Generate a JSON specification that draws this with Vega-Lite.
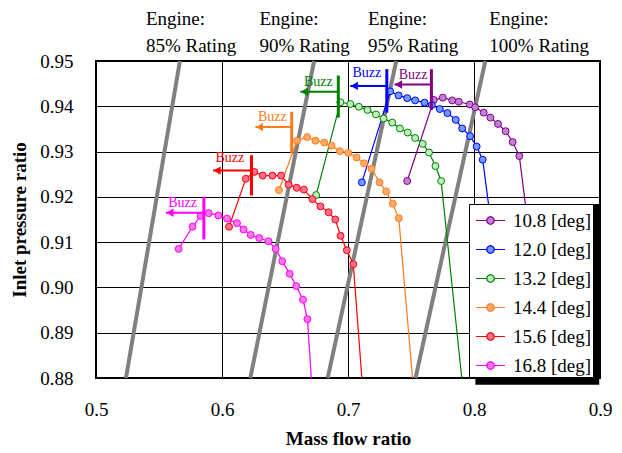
{
  "$schema": "https://vega.github.io/schema/vega-lite/v6.json",
  "width": 504,
  "height": 317,
  "autosize": {"type": "none"},
  "padding": {"left": 96, "top": 61, "right": 22, "bottom": 75},
  "config": {
    "font": "Liberation Serif",
    "view": {"stroke": "#000", "strokeWidth": 2},
    "axis": {
      "grid": true,
      "gridColor": "#000",
      "gridWidth": 1,
      "gridOpacity": 1,
      "domain": false,
      "ticks": false,
      "labelFlush": false,
      "labelFont": "Liberation Serif",
      "labelFontSize": 19,
      "labelColor": "#000",
      "titleFont": "Liberation Serif",
      "titleFontSize": 19,
      "titleFontWeight": "bold",
      "titleColor": "#000"
    }
  },
  "datasets": {
    "ratings": [
      {"rating": "Engine:\n85% Rating", "m_lo": 0.5238, "p_lo": 0.88, "m_hi": 0.5666, "p_hi": 0.95, "m_text": 0.5396, "p_text": 0.9579},
      {"rating": "Engine:\n90% Rating", "m_lo": 0.6225, "p_lo": 0.88, "m_hi": 0.6731, "p_hi": 0.95, "m_text": 0.6297, "p_text": 0.9579},
      {"rating": "Engine:\n95% Rating", "m_lo": 0.6839, "p_lo": 0.88, "m_hi": 0.7383, "p_hi": 0.95, "m_text": 0.7158, "p_text": 0.9579},
      {"rating": "Engine:\n100% Rating", "m_lo": 0.7536, "p_lo": 0.88, "m_hi": 0.8090, "p_hi": 0.95, "m_text": 0.8122, "p_text": 0.9579}
    ],
    "curves": [
      {"s": "10.8 [deg]", "m": 0.7470, "p": 0.9235, "kind": "measured"},
      {"s": "10.8 [deg]", "m": 0.7681, "p": 0.9414, "kind": "measured"},
      {"s": "10.8 [deg]", "m": 0.7752, "p": 0.9419, "kind": "measured"},
      {"s": "10.8 [deg]", "m": 0.7827, "p": 0.9413, "kind": "measured"},
      {"s": "10.8 [deg]", "m": 0.7879, "p": 0.9410, "kind": "measured"},
      {"s": "10.8 [deg]", "m": 0.7966, "p": 0.9404, "kind": "measured"},
      {"s": "10.8 [deg]", "m": 0.8009, "p": 0.9398, "kind": "measured"},
      {"s": "10.8 [deg]", "m": 0.8077, "p": 0.9386, "kind": "measured"},
      {"s": "10.8 [deg]", "m": 0.8130, "p": 0.9375, "kind": "measured"},
      {"s": "10.8 [deg]", "m": 0.8191, "p": 0.9361, "kind": "measured"},
      {"s": "10.8 [deg]", "m": 0.8251, "p": 0.9345, "kind": "measured"},
      {"s": "10.8 [deg]", "m": 0.8307, "p": 0.9321, "kind": "measured"},
      {"s": "10.8 [deg]", "m": 0.8360, "p": 0.9290, "kind": "measured"},
      {"s": "10.8 [deg]", "m": 0.8580, "p": 0.8800, "kind": "choke"},

      {"s": "12.0 [deg]", "m": 0.7110, "p": 0.9232, "kind": "measured"},
      {"s": "12.0 [deg]", "m": 0.7335, "p": 0.9433, "kind": "measured"},
      {"s": "12.0 [deg]", "m": 0.7401, "p": 0.9424, "kind": "measured"},
      {"s": "12.0 [deg]", "m": 0.7470, "p": 0.9418, "kind": "measured"},
      {"s": "12.0 [deg]", "m": 0.7533, "p": 0.9413, "kind": "measured"},
      {"s": "12.0 [deg]", "m": 0.7607, "p": 0.9408, "kind": "measured"},
      {"s": "12.0 [deg]", "m": 0.7665, "p": 0.9403, "kind": "measured"},
      {"s": "12.0 [deg]", "m": 0.7728, "p": 0.9394, "kind": "measured"},
      {"s": "12.0 [deg]", "m": 0.7789, "p": 0.9385, "kind": "measured"},
      {"s": "12.0 [deg]", "m": 0.7855, "p": 0.9370, "kind": "measured"},
      {"s": "12.0 [deg]", "m": 0.7906, "p": 0.9351, "kind": "measured"},
      {"s": "12.0 [deg]", "m": 0.7969, "p": 0.9334, "kind": "measured"},
      {"s": "12.0 [deg]", "m": 0.8021, "p": 0.9311, "kind": "measured"},
      {"s": "12.0 [deg]", "m": 0.8069, "p": 0.9282, "kind": "measured"},
      {"s": "12.0 [deg]", "m": 0.8296, "p": 0.8800, "kind": "choke"},

      {"s": "13.2 [deg]", "m": 0.6747, "p": 0.9204, "kind": "measured"},
      {"s": "13.2 [deg]", "m": 0.6940, "p": 0.9409, "kind": "measured"},
      {"s": "13.2 [deg]", "m": 0.7018, "p": 0.9405, "kind": "measured"},
      {"s": "13.2 [deg]", "m": 0.7086, "p": 0.9399, "kind": "measured"},
      {"s": "13.2 [deg]", "m": 0.7155, "p": 0.9392, "kind": "measured"},
      {"s": "13.2 [deg]", "m": 0.7222, "p": 0.9382, "kind": "measured"},
      {"s": "13.2 [deg]", "m": 0.7282, "p": 0.9373, "kind": "measured"},
      {"s": "13.2 [deg]", "m": 0.7351, "p": 0.9364, "kind": "measured"},
      {"s": "13.2 [deg]", "m": 0.7412, "p": 0.9351, "kind": "measured"},
      {"s": "13.2 [deg]", "m": 0.7474, "p": 0.9342, "kind": "measured"},
      {"s": "13.2 [deg]", "m": 0.7533, "p": 0.9330, "kind": "measured"},
      {"s": "13.2 [deg]", "m": 0.7593, "p": 0.9317, "kind": "measured"},
      {"s": "13.2 [deg]", "m": 0.7643, "p": 0.9298, "kind": "measured"},
      {"s": "13.2 [deg]", "m": 0.7694, "p": 0.9268, "kind": "measured"},
      {"s": "13.2 [deg]", "m": 0.7739, "p": 0.9235, "kind": "measured"},
      {"s": "13.2 [deg]", "m": 0.7903, "p": 0.8800, "kind": "choke"},

      {"s": "14.4 [deg]", "m": 0.6452, "p": 0.9215, "kind": "measured"},
      {"s": "14.4 [deg]", "m": 0.6595, "p": 0.9324, "kind": "measured"},
      {"s": "14.4 [deg]", "m": 0.6676, "p": 0.9332, "kind": "measured"},
      {"s": "14.4 [deg]", "m": 0.6742, "p": 0.9324, "kind": "measured"},
      {"s": "14.4 [deg]", "m": 0.6812, "p": 0.9320, "kind": "measured"},
      {"s": "14.4 [deg]", "m": 0.6870, "p": 0.9313, "kind": "measured"},
      {"s": "14.4 [deg]", "m": 0.6936, "p": 0.9301, "kind": "measured"},
      {"s": "14.4 [deg]", "m": 0.7003, "p": 0.9297, "kind": "measured"},
      {"s": "14.4 [deg]", "m": 0.7068, "p": 0.9287, "kind": "measured"},
      {"s": "14.4 [deg]", "m": 0.7128, "p": 0.9274, "kind": "measured"},
      {"s": "14.4 [deg]", "m": 0.7187, "p": 0.9262, "kind": "measured"},
      {"s": "14.4 [deg]", "m": 0.7250, "p": 0.9232, "kind": "measured"},
      {"s": "14.4 [deg]", "m": 0.7303, "p": 0.9212, "kind": "measured"},
      {"s": "14.4 [deg]", "m": 0.7355, "p": 0.9185, "kind": "measured"},
      {"s": "14.4 [deg]", "m": 0.7403, "p": 0.9153, "kind": "measured"},
      {"s": "14.4 [deg]", "m": 0.7512, "p": 0.8800, "kind": "choke"},

      {"s": "15.6 [deg]", "m": 0.6056, "p": 0.9134, "kind": "measured"},
      {"s": "15.6 [deg]", "m": 0.6189, "p": 0.9240, "kind": "measured"},
      {"s": "15.6 [deg]", "m": 0.6256, "p": 0.9255, "kind": "measured"},
      {"s": "15.6 [deg]", "m": 0.6323, "p": 0.9247, "kind": "measured"},
      {"s": "15.6 [deg]", "m": 0.6400, "p": 0.9247, "kind": "measured"},
      {"s": "15.6 [deg]", "m": 0.6469, "p": 0.9247, "kind": "measured"},
      {"s": "15.6 [deg]", "m": 0.6529, "p": 0.9227, "kind": "measured"},
      {"s": "15.6 [deg]", "m": 0.6593, "p": 0.9220, "kind": "measured"},
      {"s": "15.6 [deg]", "m": 0.6650, "p": 0.9216, "kind": "measured"},
      {"s": "15.6 [deg]", "m": 0.6717, "p": 0.9195, "kind": "measured"},
      {"s": "15.6 [deg]", "m": 0.6781, "p": 0.9179, "kind": "measured"},
      {"s": "15.6 [deg]", "m": 0.6846, "p": 0.9166, "kind": "measured"},
      {"s": "15.6 [deg]", "m": 0.6899, "p": 0.9150, "kind": "measured"},
      {"s": "15.6 [deg]", "m": 0.6941, "p": 0.9114, "kind": "measured"},
      {"s": "15.6 [deg]", "m": 0.6991, "p": 0.9082, "kind": "measured"},
      {"s": "15.6 [deg]", "m": 0.7042, "p": 0.9051, "kind": "measured"},
      {"s": "15.6 [deg]", "m": 0.7110, "p": 0.8800, "kind": "choke"},

      {"s": "16.8 [deg]", "m": 0.5656, "p": 0.9085, "kind": "measured"},
      {"s": "16.8 [deg]", "m": 0.5766, "p": 0.9134, "kind": "measured"},
      {"s": "16.8 [deg]", "m": 0.5830, "p": 0.9158, "kind": "measured"},
      {"s": "16.8 [deg]", "m": 0.5895, "p": 0.9164, "kind": "measured"},
      {"s": "16.8 [deg]", "m": 0.5971, "p": 0.9159, "kind": "measured"},
      {"s": "16.8 [deg]", "m": 0.6040, "p": 0.9152, "kind": "measured"},
      {"s": "16.8 [deg]", "m": 0.6119, "p": 0.9142, "kind": "measured"},
      {"s": "16.8 [deg]", "m": 0.6171, "p": 0.9128, "kind": "measured"},
      {"s": "16.8 [deg]", "m": 0.6228, "p": 0.9116, "kind": "measured"},
      {"s": "16.8 [deg]", "m": 0.6296, "p": 0.9109, "kind": "measured"},
      {"s": "16.8 [deg]", "m": 0.6369, "p": 0.9102, "kind": "measured"},
      {"s": "16.8 [deg]", "m": 0.6426, "p": 0.9085, "kind": "measured"},
      {"s": "16.8 [deg]", "m": 0.6478, "p": 0.9058, "kind": "measured"},
      {"s": "16.8 [deg]", "m": 0.6537, "p": 0.9030, "kind": "measured"},
      {"s": "16.8 [deg]", "m": 0.6590, "p": 0.9003, "kind": "measured"},
      {"s": "16.8 [deg]", "m": 0.6643, "p": 0.8973, "kind": "measured"},
      {"s": "16.8 [deg]", "m": 0.6678, "p": 0.8930, "kind": "measured"},
      {"s": "16.8 [deg]", "m": 0.6709, "p": 0.8800, "kind": "choke"}
    ],
    "buzz": [
      {"s": "10.8 [deg]", "m_bar": 0.7662, "p_lo": 0.9392, "p_hi": 0.9482, "p_arrow": 0.9448, "m_head": 0.7369, "m_text": 0.7516, "p_text": 0.9468, "label": "Buzz"},
      {"s": "12.0 [deg]", "m_bar": 0.7308, "p_lo": 0.9386, "p_hi": 0.9482, "p_arrow": 0.9445, "m_head": 0.7018, "m_text": 0.7150, "p_text": 0.9473, "label": "Buzz"},
      {"s": "13.2 [deg]", "m_bar": 0.6923, "p_lo": 0.9375, "p_hi": 0.9468, "p_arrow": 0.9432, "m_head": 0.6622, "m_text": 0.6765, "p_text": 0.9454, "label": "Buzz"},
      {"s": "14.4 [deg]", "m_bar": 0.6553, "p_lo": 0.9296, "p_hi": 0.9388, "p_arrow": 0.9354, "m_head": 0.6265, "m_text": 0.6400, "p_text": 0.9377, "label": "Buzz"},
      {"s": "15.6 [deg]", "m_bar": 0.6234, "p_lo": 0.9203, "p_hi": 0.9292, "p_arrow": 0.9258, "m_head": 0.5929, "m_text": 0.6062, "p_text": 0.9285, "label": "Buzz"},
      {"s": "16.8 [deg]", "m_bar": 0.5856, "p_lo": 0.9106, "p_hi": 0.9200, "p_arrow": 0.9165, "m_head": 0.5555, "m_text": 0.5687, "p_text": 0.9187, "label": "Buzz"}
    ]
  },
  "layer": [
    {
      "data": {"name": "ratings"},
      "mark": {"type": "rule", "stroke": "#808080", "strokeWidth": 4},
      "encoding": {
        "x": {"field": "m_lo", "type": "quantitative", "scale": {"domain": [0.5, 0.9], "nice": false, "zero": false},
              "axis": {"title": "Mass flow ratio", "values": [0.5, 0.6, 0.7, 0.8, 0.9], "format": ".1f", "labelPadding": 22, "titlePadding": 10}},
        "y": {"field": "p_lo", "type": "quantitative", "scale": {"domain": [0.88, 0.95], "nice": false, "zero": false},
              "axis": {"title": "Inlet pressure ratio", "values": [0.88, 0.89, 0.9, 0.91, 0.92, 0.93, 0.94, 0.95], "format": ".2f", "labelPadding": 23, "titlePadding": 10}},
        "x2": {"field": "m_hi"},
        "y2": {"field": "p_hi"}
      }
    },
    {
      "data": {"name": "ratings"},
      "mark": {"type": "text", "align": "left", "baseline": "alphabetic", "fontSize": 19, "lineBreak": "\n", "lineHeight": 26.5, "color": "#000"},
      "encoding": {
        "x": {"field": "m_text", "type": "quantitative"},
        "y": {"field": "p_text", "type": "quantitative"},
        "text": {"field": "rating"}
      }
    },
    {
      "data": {"name": "curves"},
      "mark": {"type": "line", "strokeWidth": 1.2},
      "encoding": {
        "x": {"field": "m", "type": "quantitative"},
        "y": {"field": "p", "type": "quantitative"},
        "stroke": {"field": "s", "type": "nominal",
          "scale": {"domain": ["10.8 [deg]", "12.0 [deg]", "13.2 [deg]", "14.4 [deg]", "15.6 [deg]", "16.8 [deg]"],
                    "range": ["#800080", "#0000FF", "#008000", "#FF7A1A", "#FF0000", "#FF00FF"]}},
        "order": {"value": null}
      }
    },
    {
      "data": {"name": "curves"},
      "transform": [{"filter": "datum.kind === 'measured'"}],
      "mark": {"type": "point", "shape": "circle", "filled": true, "opacity": 1, "size": 48, "strokeWidth": 1},
      "encoding": {
        "x": {"field": "m", "type": "quantitative"},
        "y": {"field": "p", "type": "quantitative"},
        "stroke": {"field": "s", "type": "nominal",
          "legend": {"title": null, "orient": "none", "legendX": 373, "legendY": 143,
            "symbolType": "M-1,0H-0.26M0.26,0H1M0.26,0L0.2252,0.13L0.13,0.2252L0,0.26L-0.13,0.2252L-0.2252,0.13L-0.26,0L-0.2252,-0.13L-0.13,-0.2252L0,-0.26L0.13,-0.2252L0.2252,-0.13Z",
            "symbolSize": 841, "symbolStrokeWidth": 1.2, "symbolOpacity": 1,
            "labelFont": "Liberation Serif", "labelFontSize": 19, "labelColor": "#000", "labelOffset": 7,
            "labelExpr": "datum.label + '\u00a0'",
            "rowPadding": 3, "padding": 1, "symbolOffset": 5,
            "fillColor": "#fff", "strokeColor": "#000"}},
        "fill": {"field": "s", "type": "nominal",
          "scale": {"domain": ["10.8 [deg]", "12.0 [deg]", "13.2 [deg]", "14.4 [deg]", "15.6 [deg]", "16.8 [deg]"],
                    "range": ["#C27FD8", "#6E9BFF", "#BDF2BD", "#FFAA66", "#FF6F92", "#FF77E4"]},
          "legend": {"title": null, "orient": "none", "legendX": 373, "legendY": 143,
            "symbolType": "M-1,0H-0.26M0.26,0H1M0.26,0L0.2252,0.13L0.13,0.2252L0,0.26L-0.13,0.2252L-0.2252,0.13L-0.26,0L-0.2252,-0.13L-0.13,-0.2252L0,-0.26L0.13,-0.2252L0.2252,-0.13Z",
            "symbolSize": 841, "symbolStrokeWidth": 1.2, "symbolOpacity": 1,
            "labelFont": "Liberation Serif", "labelFontSize": 19, "labelColor": "#000", "labelOffset": 7,
            "labelExpr": "datum.label + '\u00a0'",
            "rowPadding": 3, "padding": 1, "symbolOffset": 5,
            "fillColor": "#fff", "strokeColor": "#000"}}
      }
    },
    {
      "data": {"name": "buzz"},
      "mark": {"type": "rule", "strokeWidth": 3},
      "encoding": {
        "x": {"field": "m_bar", "type": "quantitative"},
        "y": {"field": "p_lo", "type": "quantitative"},
        "y2": {"field": "p_hi"},
        "color": {"field": "s", "type": "nominal",
          "scale": {"domain": ["16.8 [deg]", "15.6 [deg]", "14.4 [deg]", "13.2 [deg]", "12.0 [deg]", "10.8 [deg]"],
                    "range": ["#FF00FF", "#FF0000", "#FF7A1A", "#008000", "#0000FF", "#800080"]},
          "legend": null}
      }
    },
    {
      "data": {"name": "buzz"},
      "mark": {"type": "rule", "strokeWidth": 2},
      "encoding": {
        "x": {"field": "m_head", "type": "quantitative"},
        "x2": {"field": "m_bar"},
        "y": {"field": "p_arrow", "type": "quantitative"},
        "color": {"field": "s", "type": "nominal", "legend": null}
      }
    },
    {
      "data": {"name": "buzz"},
      "mark": {"type": "point", "shape": "triangle-left", "filled": true, "opacity": 1, "size": 70, "xOffset": 4},
      "encoding": {
        "x": {"field": "m_head", "type": "quantitative"},
        "y": {"field": "p_arrow", "type": "quantitative"},
        "color": {"field": "s", "type": "nominal", "legend": null}
      }
    },
    {
      "data": {"name": "buzz"},
      "mark": {"type": "text", "align": "center", "baseline": "middle", "fontSize": 14},
      "encoding": {
        "x": {"field": "m_text", "type": "quantitative"},
        "y": {"field": "p_text", "type": "quantitative"},
        "text": {"field": "label"},
        "color": {"field": "s", "type": "nominal", "legend": null}
      }
    },
    {
      "description": "drop shadow under the legend box",
      "data": {"values": [{}]},
      "mark": {"type": "rect", "fill": "#000"},
      "encoding": {
        "x": {"datum": 0.8011, "type": "quantitative"},
        "x2": {"datum": 0.8994},
        "y": {"datum": 0.9184, "type": "quantitative"},
        "y2": {"datum": 0.8785}
      }
    }
  ]
}
